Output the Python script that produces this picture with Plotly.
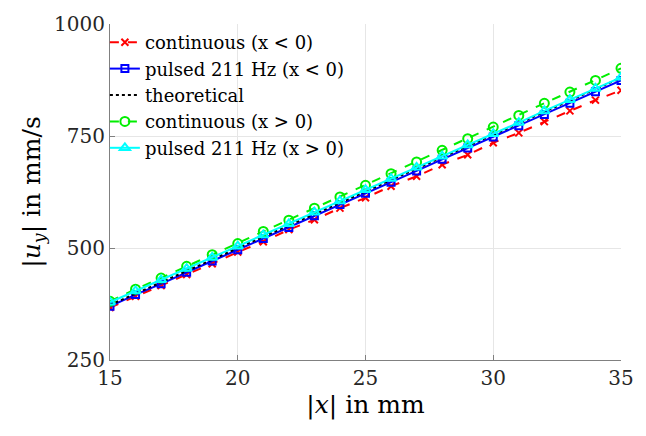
import plotly.graph_objects as go

x_mm = list(range(15, 36))

cont_neg = [367, 392, 416, 441, 465, 491, 514, 541, 563, 589, 612, 638, 660, 686, 708, 735, 757, 782, 806, 830, 852]
puls_neg = [370, 396, 420, 446, 471, 496, 521, 546, 572, 597, 622, 647, 672, 698, 723, 748, 773, 798, 823, 849, 874]
theory = [373, 398, 424, 449, 474, 500, 525, 550, 576, 601, 626, 652, 677, 702, 728, 753, 778, 804, 829, 854, 880]
cont_pos = [381, 408, 433, 459, 485, 510, 537, 562, 589, 614, 640, 666, 692, 718, 744, 770, 796, 823, 848, 874, 901]
puls_pos = [379, 404, 429, 454, 479, 504, 529, 554, 580, 605, 630, 655, 680, 705, 730, 755, 780, 806, 831, 856, 881]

y_ticks = [250, 500, 750, 1000]
x_ticks = [15, 20, 25, 30, 35]

FONT = "DejaVu Serif"

fig = go.Figure()
fig.add_trace(go.Scatter(x=x_mm, y=cont_neg, mode="lines+markers", name="continuous (x < 0)",
                         line=dict(color="#ff0000", width=2, dash="dash"),
                         marker=dict(symbol="x-thin-open", size=7, line=dict(color="#ff0000", width=2))))
fig.add_trace(go.Scatter(x=x_mm, y=puls_neg, mode="lines+markers", name="pulsed 211 Hz (x < 0)",
                         line=dict(color="#0000ff", width=2),
                         marker=dict(symbol="square-open", size=7, line=dict(color="#0000ff", width=2))))
fig.add_trace(go.Scatter(x=x_mm, y=theory, mode="lines", name="theoretical",
                         line=dict(color="#000000", width=2, dash="dot")))
fig.add_trace(go.Scatter(x=x_mm, y=cont_pos, mode="lines+markers", name="continuous (x > 0)",
                         line=dict(color="#00ee00", width=2, dash="dash"),
                         marker=dict(symbol="circle-open", size=9, line=dict(color="#00ee00", width=2))))
fig.add_trace(go.Scatter(x=x_mm, y=puls_pos, mode="lines+markers", name="pulsed 211 Hz (x > 0)",
                         line=dict(color="#00ffff", width=2),
                         marker=dict(symbol="triangle-up-open", size=9, line=dict(color="#00ffff", width=2))))

fig.update_layout(
    width=646, height=436,
    margin=dict(l=110, r=23, t=20, b=76),
    paper_bgcolor="white", plot_bgcolor="white",
    font=dict(family=FONT, size=20, color="#262626"),
    legend=dict(x=-0.01, y=1.0, xanchor="left", yanchor="top",
                bgcolor="rgba(0,0,0,0)", font=dict(family=FONT, size=18, color="#000000"),
                tracegroupgap=0, itemwidth=30),
    xaxis=dict(range=[15, 35], tickvals=x_ticks, showgrid=True, gridcolor="#e6e6e6",
               showline=True, linecolor="#808080", linewidth=1, ticks="inside", ticklen=5,
               tickcolor="#808080", zeroline=False,
               title=dict(text="|<i>x</i>| in mm", font=dict(size=25, color="#000000"), standoff=4)),
    yaxis=dict(range=[250, 1000], tickvals=y_ticks, showgrid=True, gridcolor="#e6e6e6",
               showline=True, linecolor="#808080", linewidth=1, ticks="inside", ticklen=5,
               tickcolor="#808080", zeroline=False,
               title=dict(text="|<i>u</i><sub><i>y</i></sub>| in mm/s", font=dict(size=25, color="#000000"), standoff=6)),
)

fig.write_html("out.html")
